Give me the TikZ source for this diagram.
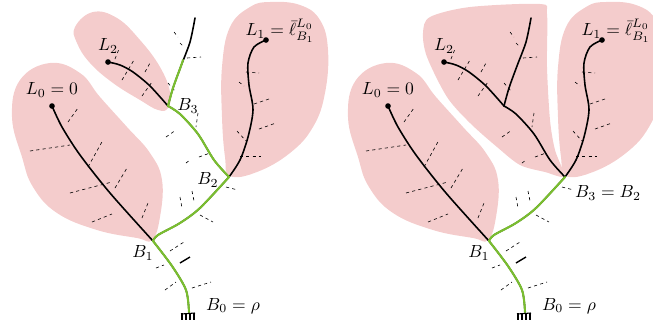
\documentclass[tikz,border=0pt]{standalone}
\usetikzlibrary{positioning}
\definecolor{leafpink}{RGB}{244,204,204}
\definecolor{spinegreen}{RGB}{122,190,48}
\tikzset{
  leaf/.style={fill=leafpink},
  branch/.style={line width=0.9pt, line cap=round},
  spine/.style={spinegreen, line width=1.2pt, line cap=round},
  twig/.style={line width=0.35pt, dash pattern=on 1.8pt off 1.8pt},
  tip/.style={circle, fill, inner sep=0pt, minimum size=3.2pt},
  lbl/.style={inner sep=1pt}
}
\begin{document}
\begin{tikzpicture}[x=0.02cm, y=-0.02cm]
    \useasboundingbox (0,0) rectangle (653,329);
    % leaves shared by both trees
    \foreach \dx in {0,336} {
    \begin{scope}[xshift=\dx*0.02cm]
    \fill[leaf] plot[smooth cycle, tension=0.7] coordinates {(50,63) (20,80) (12,117) (22,157)
        (33,187) (57,213) (97,230) (137,238) (152,240) (160,217) (162,180) (150,153)
        (127,127) (100,97) (80,73)};
    \fill[leaf] plot[smooth cycle, tension=0.7] coordinates {(270,2) (250,7) (230,27) (222,67)
        (222,117) (225,157) (230,176) (257,172) (290,153) (313,127) (325,93) (328,50)
        (320,20) (300,5)};
    \end{scope}
    }
    % left hand: leaf of L2
    \fill[leaf] plot[smooth cycle, tension=0.7] coordinates {(93,12) (75,27) (77,43) (90,63)
        (113,83) (140,100) (158,110) (168,108) (170,92) (160,67) (140,40) (117,18)};
    % right hand: leaf of L2 and B3
    \fill[leaf] plot[smooth cycle, tension=0.5] coordinates {(430,17) (470,7) (540,4)
        (547,14) (547,67) (550,120) (555,150) (564,176) (545,172) (520,165) (497,147)
        (470,123) (447,97) (427,57) (423,33)};

    % the tree, drawn twice
    \foreach \dx/\p in {0/l,336/r} {
    \begin{scope}[xshift=\dx*0.02cm]
    \coordinate (B0-\p) at (189,312);
    \coordinate (B1-\p) at (153,241);
    \coordinate (B2-\p) at (229,177);
    \coordinate (B3-\p) at (168,106);
    \coordinate (T-\p) at (195,18);
    \node[tip] (L0-\p) at (52,106) {};
    \node[tip] (L1-\p) at (266,40) {};
    \node[tip] (L2-\p) at (108,62) {};
    % twigs
    \foreach \xa/\ya/\xb/\yb in {30/151/70/145, 68/122/78/108, 88/167/103/140,
        70/193/112/182, 115/188/127/168, 92/222/112/214, 142/218/148/203,
        115/59/119/49, 122/80/134/60, 142/96/152/82, 145/72/150/63,
        174/32/178/37, 180/43/184/47, 187/58/201/57, 168/83/175/91,
        198/113/196/127, 166/137/176/130, 199/157/210/153, 186/163/190/160,
        226/187/238/190, 180/197/182/208, 192/191/194/201, 200/215/213/222,
        170/251/184/242, 156/268/164/265, 165/290/176/282, 192/288/211/282,
        246/72/259/73, 239/82/244/86, 254/104/269/99, 237/131/246/141,
        259/129/276/123, 240/156/261/156}
        \draw[twig] (\xa,\ya) -- (\xb,\yb);
    \draw[line width=0.8pt] (180,263) -- (190,257);
    % branches
    \draw[branch] plot[smooth, tension=0.5] coordinates {(B1-\p) (110,193) (80,155) (62,127) (L0-\p.center)};
    \draw[branch] plot[smooth, tension=0.5] coordinates {(B2-\p) (240,160) (248,137) (253,110)
        (249,85) (248,63) (254,47) (L1-\p.center)};
    \draw[branch] plot[smooth, tension=0.5] coordinates {(B3-\p) (150,86) (133,72) (120,65) (L2-\p.center)};
    \draw[branch] plot[smooth, tension=0.5] coordinates {(B3-\p) (173,88) (181,66) (190,42) (T-\p)};
    \draw[branch] plot[smooth, tension=0.5] coordinates {(B2-\p) (214,160) (198,134) (180,114) (B3-\p)};
    \draw[branch] plot[smooth, tension=0.5] coordinates {(B0-\p) (186,290) (172,266) (B1-\p)};
    \draw[branch] plot[smooth, tension=0.5] coordinates {(B1-\p) (158,235) (180,223) (200,208) (B2-\p)};
    % spine from the root
    \draw[spine] plot[smooth, tension=0.5] coordinates {(B0-\p) (186,290) (172,266) (B1-\p)};
    \draw[spine] plot[smooth, tension=0.5] coordinates {(B1-\p) (158,235) (180,223) (200,208) (B2-\p)};
    % root
    \draw[line width=0.6pt] (181,314) -- (195,313);
    \foreach \x in {182,186,190,194}
        \draw[line width=0.6pt] (\x,313) -- (\x,320);
    % labels
    \node[lbl, above=2pt of L0-\p] (L0lab-\p) {$L_0=0$};
    \node[lbl] (L1lab-\p) at (280,31) {$L_1=\bar\ell^{L_0}_{B_1}$};
    \node[lbl, above=2pt of L2-\p] (L2lab-\p) {$L_2$};
    \node[lbl] (B1lab-\p) at (143,253) {$B_1$};
    \node[lbl] (B0lab-\p) at (233,306) {$B_0=\rho$};
    \end{scope}
    }

    % left hand: spine goes on to B3
    \draw[spine] plot[smooth, tension=0.5] coordinates {(B2-l) (214,160) (198,134) (180,114) (B3-l)};
    \draw[spine] plot[smooth, tension=0.5] coordinates {(B3-l) (173,88) (181,66) (183,60)};
    \node[lbl] (B3lab-l) at (188,106) {$B_3$};
    \node[lbl] (B2lab-l) at (208,180) {$B_2$};
    % right hand
    \node[lbl] (B3lab-r) at (608,193) {$B_3=B_2$};
\end{tikzpicture}
\end{document}
